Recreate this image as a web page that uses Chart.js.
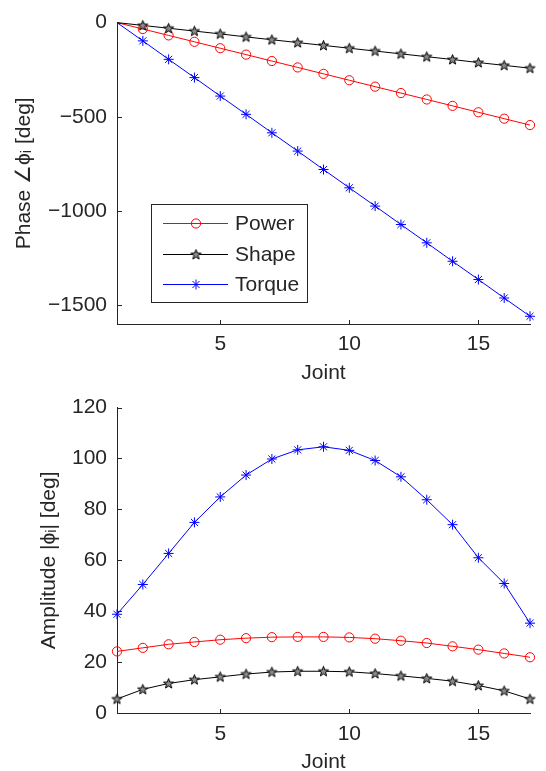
<!DOCTYPE html>
<html>
<head>
<meta charset="utf-8">
<script src="https://cdn.jsdelivr.net/npm/chart.js@4.4.1/dist/chart.umd.min.js"></script>
<style>
  html, body { margin: 0; padding: 0; background: #fff; }
  #wrap { position: relative; width: 546px; height: 771px; overflow: hidden; }
  .panel { position: absolute; left: 0; width: 546px; }
</style>
</head>
<body>
<div id="wrap">
  <div class="panel" style="top: 0; height: 385px;"><canvas id="phaseChart"></canvas></div>
  <div class="panel" style="top: 385px; height: 386px;"><canvas id="ampChart"></canvas></div>
</div>
<script>
// joint index (x) and the ticks shown on each axis
const joints = [1, 2, 3, 4, 5, 6, 7, 8, 9, 10, 11, 12, 13, 14, 15, 16, 17];
const xTicks = [5, 10, 15];
const phaseTicks = [-1500, -1000, -500, 0];
const ampTicks = [0, 20, 40, 60, 80, 100, 120];
const seriesNames = ['Power', 'Shape', 'Torque'];

// phase per joint [deg]
const phasePower = [0, -34, -68, -102, -136, -170, -204, -238, -272, -306, -340, -374, -408, -442, -476, -510, -544];
const phaseShape = [0, -15, -30, -45, -60, -76, -91, -106, -121, -136, -151, -166, -181, -196, -212, -227, -242];
const phaseTorque = [0, -97, -195, -292, -390, -487, -585, -682, -780, -877, -974, -1072, -1169, -1267, -1364, -1462, -1559];

// amplitude per joint [deg]
const ampPower = [24.2, 25.6, 27.0, 27.9, 28.8, 29.4, 29.8, 29.9, 29.9, 29.7, 29.2, 28.4, 27.5, 26.2, 24.9, 23.4, 21.9];
const ampShape = [5.5, 9.3, 11.6, 13.1, 14.2, 15.3, 16.1, 16.4, 16.4, 16.2, 15.5, 14.6, 13.6, 12.5, 10.8, 8.7, 5.5];
const ampTorque = [38.8, 50.5, 62.7, 74.9, 84.9, 93.5, 99.8, 103.4, 104.6, 103.2, 99.2, 92.8, 83.8, 74.0, 61.0, 50.9, 35.3];

const axisColor = '#262626';
const fontFamily = '"Liberation Sans", Arial, Helvetica, sans-serif';

// pentagram marker (Matlab 'p'), drawn once into a small canvas
function makePentagram() {
    const c = document.createElement('canvas');
    c.width = 13; c.height = 13;
    const g = c.getContext('2d');
    const R = 5.3, r = 2.2, cx = 6.5, cy = 6.8;
    g.beginPath();
    for (let i = 0; i < 10; i++) {
        const rad = i % 2 === 0 ? R : r;
        const a = -Math.PI / 2 + i * Math.PI / 5;
        const px = cx + rad * Math.cos(a), py = cy + rad * Math.sin(a);
        if (i === 0) g.moveTo(px, py); else g.lineTo(px, py);
    }
    g.closePath();
    g.fillStyle = '#8a8a8a';
    g.fill();
    g.strokeStyle = '#000';
    g.lineWidth = 1;
    g.stroke();
    return c;
}
const pentagram = makePentagram();

const styles = [
    { color: '#ff0000', pointStyle: 'circle', radius: 4.6 },
    { color: '#000000', pointStyle: pentagram, radius: 5 },
    { color: '#0000ff', pointStyle: 'star', radius: 5 }
];

function toPoints(values) {
    return values.map((v, i) => ({ x: joints[i], y: v }));
}

function makeDatasets(seriesList, skipFirstMarker) {
    return seriesList.map((values, i) => ({
        label: seriesNames[i],
        data: toPoints(values),
        borderColor: styles[i].color,
        borderWidth: 1,
        backgroundColor: 'transparent',
        pointStyle: styles[i].pointStyle,
        pointRadius: ctx => (skipFirstMarker && ctx.dataIndex === 0) ? 0 : styles[i].radius,
        pointBorderColor: styles[i].color,
        pointBackgroundColor: 'transparent',
        pointBorderWidth: 1,
        tension: 0,
        clip: false,
        order: 3 - i
    }));
}

// Matlab style ticks that point into the axes
const inwardTicks = {
    id: 'inwardTicks',
    afterDraw(chart) {
        const { ctx, chartArea: a, scales } = chart;
        ctx.save();
        ctx.strokeStyle = axisColor;
        ctx.lineWidth = 1;
        ctx.beginPath();
        scales.x.ticks.forEach(t => {
            const px = Math.round(scales.x.getPixelForValue(t.value)) + 0.5;
            ctx.moveTo(px, a.bottom);
            ctx.lineTo(px, a.bottom - 4);
        });
        scales.y.ticks.forEach(t => {
            const py = Math.round(scales.y.getPixelForValue(t.value)) + 0.5;
            ctx.moveTo(a.left, py);
            ctx.lineTo(a.left + 5, py);
        });
        ctx.stroke();
        ctx.restore();
    }
};

// boxed legend inside the phase axes
function drawMarker(ctx, style, x, y) {
    ctx.strokeStyle = style.color;
    ctx.lineWidth = 1;
    if (style.pointStyle === 'circle') {
        ctx.beginPath();
        ctx.arc(x, y, style.radius, 0, Math.PI * 2);
        ctx.stroke();
    } else if (style.pointStyle === 'star') {
        const r = style.radius;
        ctx.beginPath();
        for (let k = 0; k < 4; k++) {
            const a = k * Math.PI / 4;
            ctx.moveTo(x - r * Math.cos(a), y - r * Math.sin(a));
            ctx.lineTo(x + r * Math.cos(a), y + r * Math.sin(a));
        }
        ctx.stroke();
    } else {
        ctx.drawImage(style.pointStyle, x - style.pointStyle.width / 2, y - style.pointStyle.height / 2);
    }
}

const boxLegend = {
    id: 'boxLegend',
    afterDraw(chart) {
        const ctx = chart.ctx;
        const box = { left: 151, top: 204, width: 156, height: 98 };
        const rows = [223, 254, 284];
        ctx.save();
        ctx.fillStyle = '#fff';
        ctx.fillRect(box.left, box.top, box.width, box.height);
        ctx.strokeStyle = axisColor;
        ctx.lineWidth = 1;
        ctx.strokeRect(box.left + 0.5, box.top + 0.5, box.width, box.height);
        ctx.font = '21px ' + fontFamily;
        ctx.textBaseline = 'middle';
        ctx.textAlign = 'left';
        seriesNames.forEach((name, i) => {
            const y = rows[i] + 0.5;
            ctx.strokeStyle = styles[i].color;
            ctx.beginPath();
            ctx.moveTo(163, y);
            ctx.lineTo(228, y);
            ctx.stroke();
            drawMarker(ctx, styles[i], 196, y);
            ctx.fillStyle = axisColor;
            ctx.fillText(name, 235, rows[i] + 1);
        });
        ctx.restore();
    }
};

function fmt(v) {
    return v < 0 ? '\u2212' + Math.abs(v) : String(v);
}

function makeChart(canvasId, seriesList, yTicks, yMin, yMax, yTitle, opts, plugins) {
    return new Chart(document.getElementById(canvasId), {
        type: 'line',
        data: { datasets: makeDatasets(seriesList, opts.skipFirstMarker) },
        options: {
            responsive: true,
            maintainAspectRatio: false,
            animation: false,
            events: [],
            layout: { padding: { top: opts.padTop, left: opts.padLeft, right: 16, bottom: 0 } },
            plugins: { legend: { display: false }, tooltip: { enabled: false } },
            scales: {
                x: {
                    type: 'linear',
                    min: 1,
                    max: 17,
                    afterBuildTicks: s => { s.ticks = xTicks.map(v => ({ value: v })); },
                    afterFit: s => { s.height = opts.xHeight; },
                    grid: { display: true, drawOnChartArea: false, drawTicks: false },
                    border: { display: true, color: axisColor, width: 1 },
                    ticks: { color: axisColor, padding: opts.xTickPad, font: { family: fontFamily, size: 21 }, maxRotation: 0 },
                    title: { display: true, text: 'Joint', color: axisColor, padding: 0, font: { family: fontFamily, size: 21, lineHeight: opts.xTitleLH } }
                },
                y: {
                    type: 'linear',
                    min: yMin,
                    max: yMax,
                    afterBuildTicks: s => { s.ticks = yTicks.map(v => ({ value: v })); },
                    afterFit: s => { s.width = opts.yWidth; },
                    grid: { display: true, drawOnChartArea: false, drawTicks: false },
                    border: { display: true, color: axisColor, width: 1 },
                    ticks: { color: axisColor, padding: 10, font: { family: fontFamily, size: 21 }, callback: v => fmt(v) },
                    title: { display: true, text: yTitle, color: axisColor, padding: { top: 4, bottom: 4 }, font: { family: fontFamily, size: 21, lineHeight: 1.2 } }
                }
            }
        },
        plugins: plugins
    });
}

makeChart('phaseChart', [phasePower, phaseShape, phaseTorque], phaseTicks, -1600, 0,
    'Phase \u2220\u03d5\u1d62 [deg]',
    { padTop: 12, padLeft: 8, yWidth: 109, xHeight: 61, xTickPad: 8, xTitleLH: 1.1, skipFirstMarker: true },
    [inwardTicks, boxLegend]);

makeChart('ampChart', [ampPower, ampShape, ampTorque], ampTicks, 0, 120,
    'Amplitude |\u03d5\u1d62| [deg]',
    { padTop: 16, padLeft: 33, yWidth: 84, xHeight: 58, xTickPad: 9, xTitleLH: 0.81, skipFirstMarker: false },
    [inwardTicks]);
</script>
</body>
</html>
